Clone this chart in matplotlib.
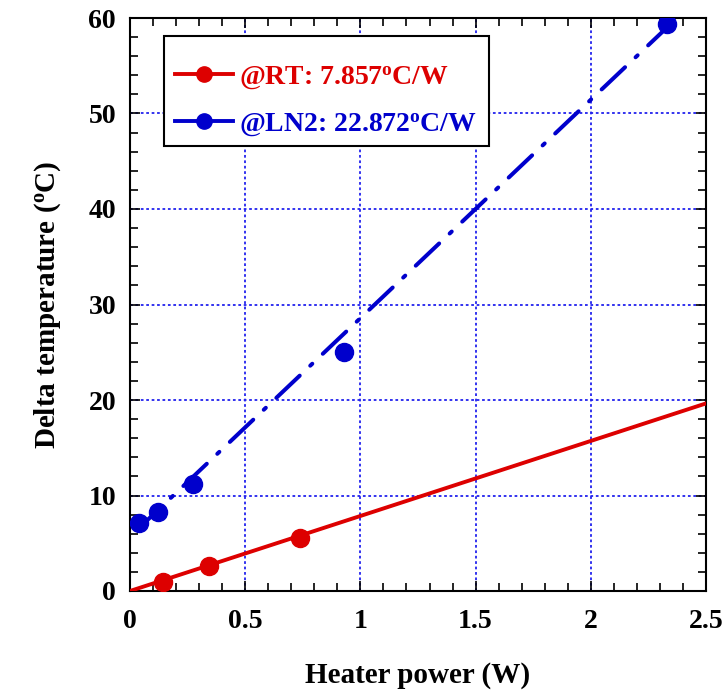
import numpy as np
import matplotlib
matplotlib.use("Agg")
import matplotlib.pyplot as plt
from matplotlib.patches import Rectangle
from matplotlib.ticker import MultipleLocator

plt.rcParams['font.family'] = 'Liberation Serif'
plt.rcParams['font.weight'] = 'bold'
plt.rcParams['axes.labelweight'] = 'bold'
plt.rcParams['mathtext.fontset'] = 'custom'
plt.rcParams['mathtext.rm'] = 'Liberation Serif:bold'
plt.rcParams['mathtext.bf'] = 'Liberation Serif:bold'
plt.rcParams['mathtext.it'] = 'Liberation Serif:bold'

# measured points
rt_power = [0.143, 0.343, 0.738]
rt_dtemp = [0.97, 2.6, 5.58]
ln2_power = [0.040, 0.123, 0.275, 0.930, 2.329]
ln2_dtemp = [7.15, 8.3, 11.2, 25.06, 59.4]

# fits (slope from legend)
rt_slope, rt_icpt = 7.857, 0.0
ln2_slope, ln2_icpt = 22.872, 5.7
rt_range = [0.0, 2.5]
ln2_range = [0.03, 2.37]

red = '#dd0000'
blue = '#0000cc'

fig = plt.figure(figsize=(7.28, 6.91), dpi=100)
ax = fig.add_axes([130/728, 100/691, 576/728, 573/691])

# fit lines
xr = np.array(rt_range)
ax.plot(xr, rt_slope*xr + rt_icpt, color=red, lw=2.8, zorder=3)
xb = np.array(ln2_range)
ax.plot(xb, ln2_slope*xb + ln2_icpt, color=blue, lw=2.9, zorder=3,
        dashes=[8.0, 3.6, 0.7, 3.6], dash_capstyle='round')

# data markers
ax.plot(rt_power, rt_dtemp, 'o', color=red, ms=13, zorder=4)
ax.plot(ln2_power, ln2_dtemp, 'o', color=blue, ms=13, zorder=4)

# legend box drawn separately so the padding can be set freely
box = Rectangle((34/576, 445/573), 325/576, 110/573, transform=ax.transAxes,
                facecolor='white', edgecolor='black', lw=1.5, zorder=4.5)
ax.add_patch(box)

deg = r'$^{\mathbf{o}}$'
h1, = ax.plot([], [], '-o', color=red, lw=2.8, ms=11)
h2, = ax.plot([], [], '-o', color=blue, lw=2.8, ms=11)
leg = ax.legend([h1, h2], ['@RT: 7.857' + deg + 'C/W', '@LN2: 22.872' + deg + 'C/W'],
                loc='upper left', bbox_to_anchor=(45/576, 527/573),
                fontsize=20, frameon=False,
                handlelength=2.1, borderpad=0, labelspacing=0.73,
                handletextpad=0.22, borderaxespad=0)
leg.set_zorder(5)
for t, c in zip(leg.get_texts(), [red, blue]):
    t.set_color(c)

ax.set_xlim(0, 2.5)
ax.set_ylim(0, 60)
ax.xaxis.set_major_locator(MultipleLocator(0.5))
ax.xaxis.set_minor_locator(MultipleLocator(0.1))
ax.yaxis.set_major_locator(MultipleLocator(10))
ax.yaxis.set_minor_locator(MultipleLocator(2))
ax.set_xticks([0, 0.5, 1, 1.5, 2, 2.5])
ax.set_xticklabels(['0', '0.5', '1', '1.5', '2', '2.5'])

ax.grid(True, which='major', color='#2222ee', linestyle=(0, (1.5, 1.5)), lw=1.3)
ax.tick_params(which='both', direction='in', top=True, right=True, width=1.2)
ax.tick_params(which='major', length=7)
ax.tick_params(which='minor', length=6)
ax.tick_params(axis='x', pad=13, labelsize=20)
ax.tick_params(axis='y', pad=10, labelsize=20)
for s in ax.spines.values():
    s.set_linewidth(1.5)

ax.set_xlabel('Heater power (W)', fontsize=21, labelpad=20)
ax.set_ylabel('Delta temperature (' + deg + 'C)', fontsize=21, labelpad=18)

fig.savefig('out.png', dpi=100)
